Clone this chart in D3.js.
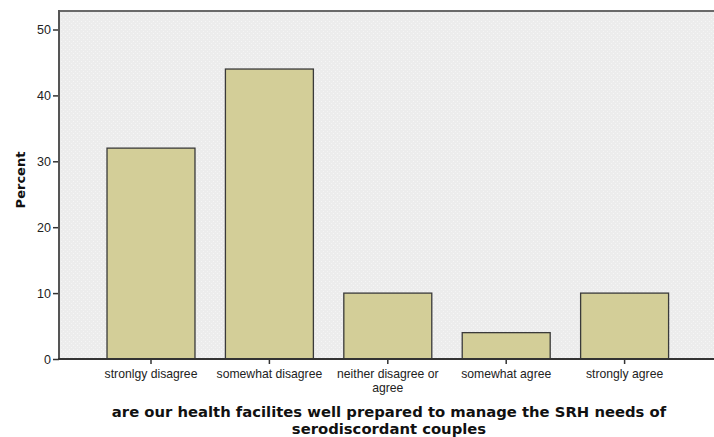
<!DOCTYPE html>
<html>
<head>
<meta charset="utf-8">
<script src="https://cdn.jsdelivr.net/npm/d3@7"></script>
<style>
  body { margin: 0; background: #fff; }
</style>
</head>
<body>
<svg id="chart" width="714" height="437" font-family="Liberation Sans, Arial, sans-serif"></svg>
<script>
// survey responses, percent of respondents

var categories = [
  ["stronlgy disagree"],
  ["somewhat disagree"],
  ["neither disagree or", "agree"],
  ["somewhat agree"],
  ["strongly agree"]
];
var percents = [32, 44, 10, 4, 10];
var yTicks = [0, 10, 20, 30, 40, 50];
var titleLines = [
  "are our health facilites well prepared to manage the SRH needs of",
  "serodiscordant couples"
];

var svg = d3.select("#chart");
var plot = { left: 59, top: 11, right: 716, bottom: 359 };

// dotted background texture like SPSS output
var defs = svg.append("defs");
var pat = defs.append("pattern")
  .attr("id", "dots")
  .attr("width", 4).attr("height", 4)
  .attr("patternUnits", "userSpaceOnUse");
pat.append("rect").attr("width", 4).attr("height", 4).attr("fill", "#ececec");
pat.append("rect").attr("x", 1).attr("y", 1).attr("width", 1).attr("height", 1).attr("fill", "#f6f6f6");
pat.append("rect").attr("x", 3).attr("y", 3).attr("width", 1).attr("height", 1).attr("fill", "#f4f4f4");

svg.append("rect")
  .attr("x", plot.left).attr("y", plot.top)
  .attr("width", plot.right - plot.left)
  .attr("height", plot.bottom - plot.top)
  .attr("fill", "url(#dots)");

var y = d3.scaleLinear().domain([0, 50]).range([plot.bottom, 29.5]);

var x = d3.scaleBand()
  .domain(d3.range(categories.length))
  .range([91.8, 683.8])
  .paddingInner(0.257)
  .paddingOuter(0.1285);

// bars
svg.append("g").selectAll("rect")
  .data(percents)
  .join("rect")
  .attr("x", function (d, i) { return x(i); })
  .attr("y", function (d) { return y(d); })
  .attr("width", x.bandwidth())
  .attr("height", function (d) { return y(0) - y(d); })
  .attr("fill", "#d3ce98")
  .attr("stroke", "#3a3a3a")
  .attr("stroke-width", 1.3);

// top border
svg.append("line")
  .attr("x1", plot.left).attr("x2", plot.right)
  .attr("y1", plot.top).attr("y2", plot.top)
  .attr("stroke", "#6a6a6a").attr("stroke-width", 2);

// y axis
var yAxis = d3.axisLeft(y).tickValues(yTicks).tickSize(6).tickPadding(2);
var gy = svg.append("g")
  .attr("transform", "translate(" + plot.left + ",0)")
  .call(yAxis);
gy.attr("font-family", null);
gy.select(".domain").remove();
gy.selectAll(".tick line").attr("stroke", "#333").attr("stroke-width", 1.5);
gy.selectAll(".tick text")
  .attr("font-size", 12.5)
  .attr("fill", "#222");
svg.append("line")
  .attr("x1", plot.left).attr("x2", plot.left)
  .attr("y1", plot.top - 1).attr("y2", plot.bottom + 1)
  .attr("stroke", "#555").attr("stroke-width", 2);

// x axis
var xAxis = d3.axisBottom(x).tickSize(5).tickFormat("");
var gx = svg.append("g")
  .attr("transform", "translate(0," + plot.bottom + ")")
  .call(xAxis);
gx.select(".domain").remove();
gx.selectAll(".tick line").attr("stroke", "#333").attr("stroke-width", 1.5);
svg.append("line")
  .attr("x1", plot.left - 1).attr("x2", plot.right)
  .attr("y1", plot.bottom).attr("y2", plot.bottom)
  .attr("stroke", "#333").attr("stroke-width", 2);

// category labels, wrapped as in the original
var labels = svg.append("g").selectAll("text")
  .data(categories)
  .join("text")
  .attr("x", function (d, i) { return x(i) + x.bandwidth() / 2; })
  .attr("y", 378)
  .attr("text-anchor", "middle")
  .attr("font-size", 12.2)
  .attr("fill", "#222");
labels.selectAll("tspan")
  .data(function (d) { return d; })
  .join("tspan")
  .attr("x", function () { return d3.select(this.parentNode).attr("x"); })
  .attr("dy", function (d, i) { return i === 0 ? 0 : 13.5; })
  .text(function (d) { return d; });

// y title
svg.append("text")
  .attr("transform", "translate(25," + ((plot.top + plot.bottom) / 2 - 5) + ") rotate(-90)")
  .attr("text-anchor", "middle")
  .attr("font-size", 13)
  .attr("font-weight", "bold")
  .attr("font-family", "DejaVu Sans, sans-serif")
  .attr("fill", "#111")
  .text("Percent");

// x title
svg.append("g").selectAll("text")
  .data(titleLines)
  .join("text")
  .attr("x", 389)
  .attr("y", function (d, i) { return 416.5 + i * 17; })
  .attr("text-anchor", "middle")
  .attr("font-size", 14.8)
  .attr("font-weight", "bold")
  .attr("font-family", "DejaVu Sans, sans-serif")
  .attr("fill", "#111")
  .text(function (d) { return d; });
</script>
</body>
</html>
